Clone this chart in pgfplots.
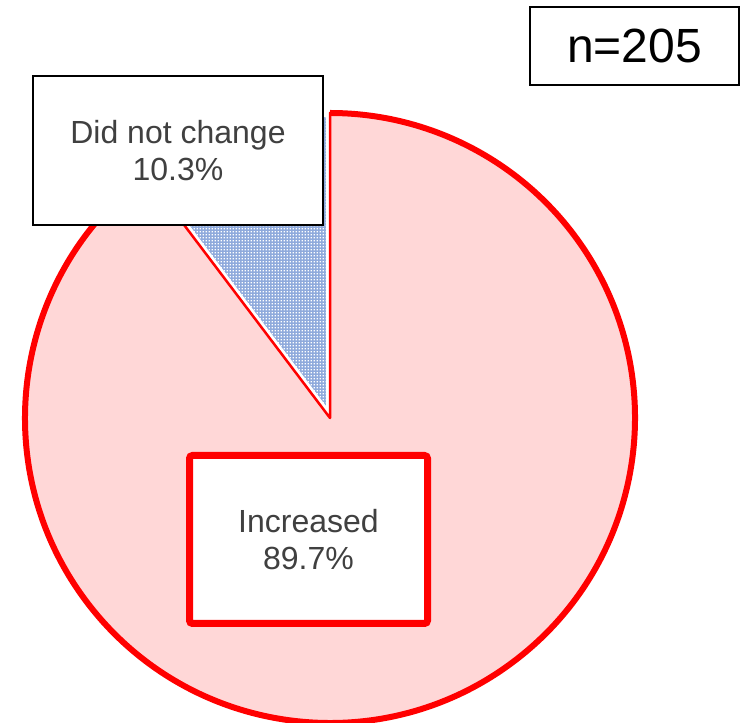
\documentclass[border=0pt]{standalone}
\usepackage{pgfplots}
\usepackage{pgfplotstable}
\pgfplotsset{compat=1.18}
\usepackage{fontspec}
\setmainfont{Liberation Sans}
\usetikzlibrary{patterns}

\definecolor{pinkfill}{RGB}{255,215,215}
\definecolor{slicered}{RGB}{255,0,0}
\definecolor{dotblue}{RGB}{143,170,220}
\definecolor{labelgray}{RGB}{64,64,64}

% small square grid of white dots
\pgfdeclarepatternformonly{whitegrid}{\pgfpointorigin}{\pgfpoint{3.3pt}{3.3pt}}{\pgfpoint{3.3pt}{3.3pt}}{%
  \pgfpathrectangle{\pgfpoint{0.9pt}{0.9pt}}{\pgfpoint{1.5pt}{1.5pt}}%
  \pgfusepath{fill}%
}

\pgfplotstableread[col sep=comma]{
label,value
Increased,89.7
Did not change,10.3
}\shares

\begin{document}
\begin{tikzpicture}
\pgfplotstablegetelem{0}{value}\of\shares \let\incval\pgfplotsretval
\pgfplotstablegetelem{1}{value}\of\shares \let\sameval\pgfplotsretval
\pgfmathsetmacro{\splitang}{90+3.6*\sameval}
\begin{axis}[
  width=743pt, height=722pt, scale only axis,
  xmin=0, xmax=743, ymin=0, ymax=722,
  hide axis, clip=true,
]
\addplot[draw=none] coordinates {(0,0) (743,722)};
% "Did not change" slice
\fill[dotblue] (axis cs:330,304) -- ++(90:305pt)
  arc[start angle=90, end angle=\splitang, radius=305pt] -- cycle;
\fill[pattern=whitegrid, pattern color=white] (axis cs:330,304) -- ++(90:305pt)
  arc[start angle=90, end angle=\splitang, radius=305pt] -- cycle;
\draw[white, line width=8pt, line join=round] (axis cs:330,304) -- ++(90:305pt)
  arc[start angle=90, end angle=\splitang, radius=305pt] -- cycle;
% "Increased" slice
\fill[pinkfill] (axis cs:330,304) -- ++(\splitang:305pt)
  arc[start angle=\splitang, end angle=450, radius=305pt] -- cycle;
\draw[slicered, line width=2.5pt, line join=round] (axis cs:330,304) -- ++(\splitang:305pt)
  arc[start angle=\splitang, end angle=450, radius=305pt] -- cycle;
\draw[slicered, line width=6pt] (axis cs:330,304) ++(\splitang:305pt)
  arc[start angle=\splitang, end angle=450, radius=305pt];
% labels
\node[draw=black, line width=1.5pt, fill=white, minimum width=290pt, minimum height=149pt,
  inner sep=0pt, align=center, text=labelgray, font=\fontsize{32}{37}\selectfont]
  at (axis cs:178,571.5) {Did not change\\\sameval\%};
\node[draw=slicered, line width=7pt, rounded corners=3pt, fill=white,
  minimum width=238pt, minimum height=168pt, inner sep=0pt, align=center,
  text=labelgray, font=\fontsize{32}{37}\selectfont]
  at (axis cs:308.5,182.5) {Increased\\\incval\%};
\node[draw=black, line width=1.5pt, fill=white, minimum width=209pt, minimum height=78pt,
  inner sep=0pt, font=\fontsize{48}{56}\selectfont]
  at (axis cs:634.5,676) {n=205};
\end{axis}
\end{tikzpicture}
\end{document}
